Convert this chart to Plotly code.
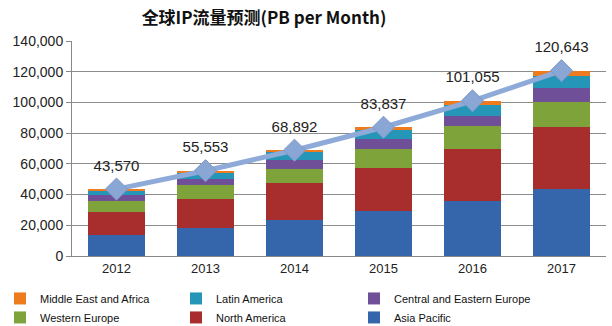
import plotly.graph_objects as go

years = ["2012", "2013", "2014", "2015", "2016", "2017"]
totals = [43570, 55553, 68892, 83837, 101055, 120643]

asia_pacific = [13900, 18300, 23400, 29100, 36000, 43600]
north_america = [14700, 18800, 23900, 28400, 33700, 40400]
western_europe = [7500, 9100, 9500, 12000, 14700, 16500]
central_eastern_europe = [3300, 3900, 5500, 6500, 6900, 9100]
latin_america = [3500, 4200, 5100, 5900, 7200, 7800]
middle_east_africa = [670, 1253, 1492, 1937, 2555, 3243]

y_ticks = [0, 20000, 40000, 60000, 80000, 100000, 120000, 140000]

# name, values, colour, legend column, rank within column
series = [
    ("Asia Pacific", asia_pacific, "#3566ac", "legend3", 2),
    ("North America", north_america, "#a82e2e", "legend2", 2),
    ("Western Europe", western_europe, "#7da33a", "legend", 2),
    ("Central and Eastern Europe", central_eastern_europe, "#6e4f98", "legend3", 1),
    ("Latin America", latin_america, "#2596b8", "legend2", 1),
    ("Middle East and Africa", middle_east_africa, "#ee7b1e", "legend", 1),
]

fig = go.Figure()
for name, vals, color, leg, rank in series:
    fig.add_trace(go.Bar(
        x=years, y=vals, name=name, legend=leg, legendrank=rank,
        marker=dict(color=color, line=dict(width=0)),
    ))

fig.add_trace(go.Scatter(
    x=years, y=totals, mode="lines+markers", showlegend=False,
    line=dict(color="#8eaad8", width=5),
    marker=dict(symbol="diamond", size=17, color="#8aa6d4",
                line=dict(color="#7d99c8", width=1)),
))

# value labels above the points
fig.add_trace(go.Scatter(
    x=years, y=totals, mode="markers+text", showlegend=False,
    text=[f"{t:,}" for t in totals], textposition="top center",
    textfont=dict(size=15, color="#222", family="Liberation Sans"),
    marker=dict(size=22, opacity=0), cliponaxis=False,
))

pw = 612 - 72 - 6
leg_common = dict(orientation="v", traceorder="normal", yanchor="top", xanchor="left",
                  y=-0.13, itemwidth=30, tracegroupgap=0,
                  font=dict(family="Liberation Sans Narrow, Liberation Sans", size=11, color="#111"),
                  bgcolor="rgba(0,0,0,0)")

fig.update_layout(
    barmode="stack",
    bargap=0.355,
    width=612, height=326,
    margin=dict(l=72, r=6, t=41, b=70, autoexpand=False),
    paper_bgcolor="white", plot_bgcolor="white",
    title=dict(text="<b>全球IP流量预测(PB per Month)</b>", x=264/612, xanchor="center",
               y=1 - 18/326, yanchor="middle",
               font=dict(family="Noto Sans CJK SC", size=17, color="#111")),
    legend=dict(x=(0 - 72) / pw, **leg_common),
    legend2=dict(x=(176 - 72) / pw, **leg_common),
    legend3=dict(x=(354 - 72) / pw, **leg_common),
    showlegend=True,
)
fig.update_xaxes(type="category", showline=True, linecolor="#888", linewidth=1,
                 ticks="", tickfont=dict(family="Liberation Sans", size=13, color="#222"),
                 range=[-0.5, 5.5])
fig.update_yaxes(range=[0, 140000], tickvals=y_ticks, tickformat=",",
                 showgrid=True, gridcolor="#8c8c8c", gridwidth=1,
                 showline=True, linecolor="#888", linewidth=1,
                 ticks="outside", ticklen=5, tickcolor="#888",
                 tickfont=dict(family="Liberation Sans", size=14, color="#222"),
                 zeroline=False)

fig.write_html("out.html")
